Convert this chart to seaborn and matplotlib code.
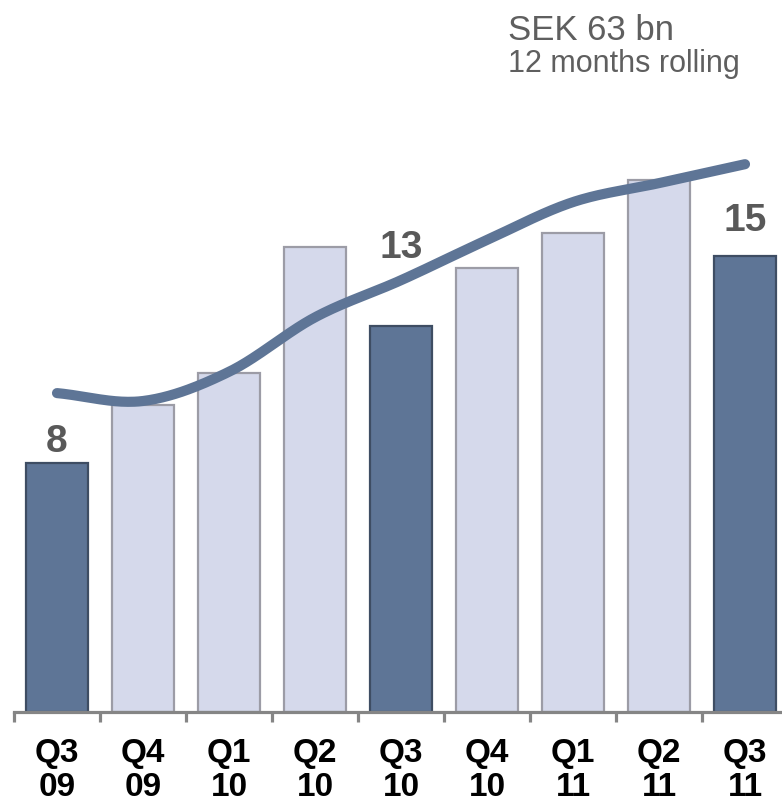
import numpy as np
import matplotlib.pyplot as plt
import seaborn as sns

quarters = ["Q3\n09", "Q4\n09", "Q1\n10", "Q2\n10", "Q3\n10", "Q4\n10", "Q1\n11", "Q2\n11", "Q3\n11"]
orders = [8.2, 10.1, 11.15, 15.3, 12.7, 14.6, 15.75, 17.5, 15.0]
rolling_12m = [33.8, 32.8, 36.5, 43.4, 48.1, 53.2, 58.0, 60.4, 62.8]
labelled = [0, 4, 8]
label_texts = ["8", "13", "15"]

DARK = "#5e7596"
LIGHT = "#d5d9eb"

sns.set_style("white")
plt.rcParams["font.family"] = ["Liberation Sans", "DejaVu Sans"]

fig = plt.figure(figsize=(7.82, 8.10), dpi=100)
ax = fig.add_axes([14 / 782, 98 / 810, 768 / 782, 712 / 810])

bar_colors = [DARK if q.startswith("Q3") else LIGHT for q in quarters]
sns.barplot(x=quarters, y=orders, hue=quarters, palette=bar_colors, saturation=1,
            width=0.71, dodge=False, legend=False, ax=ax)
for p, c in zip(ax.patches, bar_colors):
    p.set_edgecolor("#3e4d63" if c == DARK else "#9c9ca6")
    p.set_linewidth(1.6)

ax.set_xlim(-0.5, 8.43)
ax.set_ylim(0, 23.42)
ax.set_yticks([])
ax.set_xlabel("")
ax.set_ylabel("")
for s in ["left", "right", "top"]:
    ax.spines[s].set_visible(False)
ax.spines["bottom"].set_color("#858585")
ax.spines["bottom"].set_linewidth(2.3)
ax.set_xticks(range(len(quarters)))
ax.set_xticklabels(quarters, fontsize=24, fontweight="bold", color="black", linespacing=1.12)
ax.set_xticks(np.arange(-0.5, len(quarters) - 0.5, 1), minor=True)
ax.tick_params(axis="x", which="major", length=0, pad=19)
ax.tick_params(axis="x", which="minor", length=7.5, width=2.3, color="#858585", direction="out")
ax.tick_params(axis="x", which="both", bottom=True)

# value labels above the Q3 bars
label_offsets = [11, 68, 25]
for i, txt, off in zip(labelled, label_texts, label_offsets):
    ax.annotate(txt, (i, orders[i]), xytext=(0, off * 0.72), textcoords="offset points",
                ha="center", va="baseline", fontsize=28, fontweight="bold", color="#595959")

# smoothed 12-month rolling line on a hidden secondary axis
def catmull_rom(xs, ys, n=40):
    x = np.asarray(xs, float)
    y = np.asarray(ys, float)
    px = np.concatenate([[2 * x[0] - x[1]], x, [2 * x[-1] - x[-2]]])
    py = np.concatenate([[2 * y[0] - y[1]], y, [2 * y[-1] - y[-2]]])
    t = np.linspace(0, 1, n, endpoint=False)
    ox, oy = [], []
    for i in range(1, len(px) - 2):
        for arr, out in ((px, ox), (py, oy)):
            p0, p1, p2, p3 = arr[i - 1:i + 3]
            out.append(0.5 * (2 * p1 + (-p0 + p2) * t
                              + (2 * p0 - 5 * p1 + 4 * p2 - p3) * t ** 2
                              + (-p0 + 3 * p1 - 3 * p2 + p3) * t ** 3))
    ox.append([x[-1]])
    oy.append([y[-1]])
    return np.concatenate(ox), np.concatenate(oy)

ax2 = ax.twinx()
sx, sy = catmull_rom(range(len(rolling_12m)), rolling_12m)
ax2.plot(sx, sy, color=DARK, lw=7.3, solid_capstyle="round")
ax2.set_ylim(-6.6, 83.6)
ax2.set_yticks([])
for s in ax2.spines.values():
    s.set_visible(False)

fig.text(508 / 782, 1 - 40 / 810, "SEK 63 bn", fontsize=25, color="#5f5f5f", va="baseline")
fig.text(508 / 782, 1 - 72 / 810, "12 months rolling", fontsize=22, color="#5f5f5f", va="baseline")

fig.savefig("out.png", dpi=100)
